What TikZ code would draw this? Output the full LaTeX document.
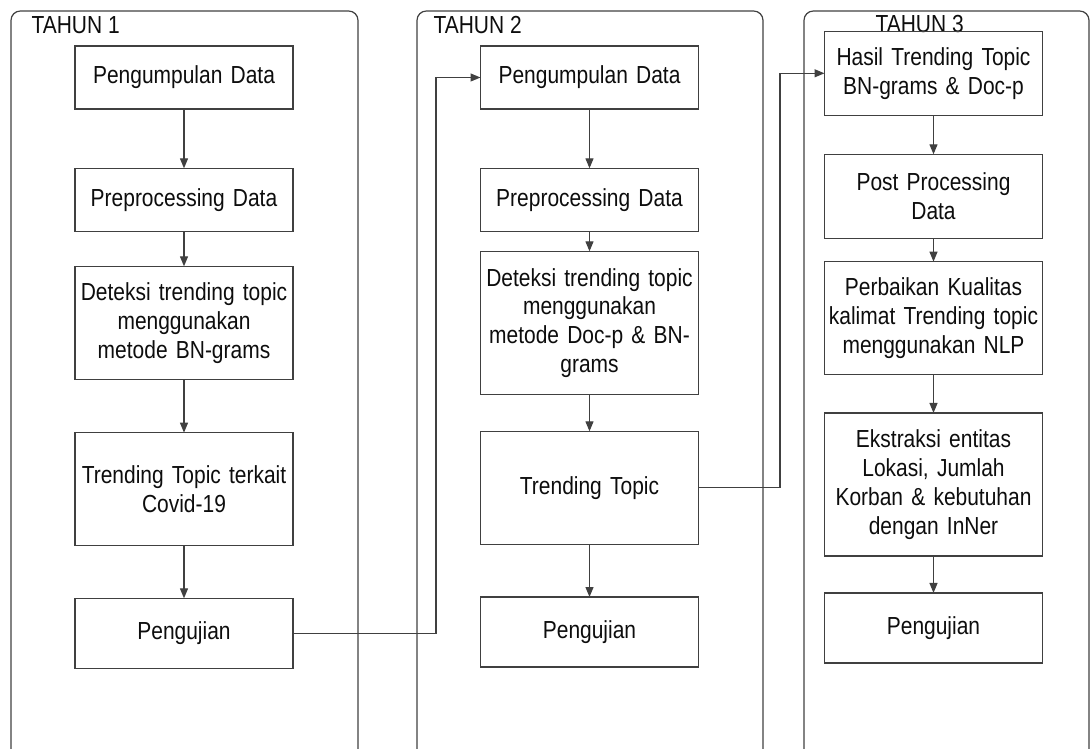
\documentclass[tikz,border=0pt]{standalone}
\usepackage{fontspec}
\setmainfont{Liberation Sans}[FakeStretch=0.85]
\usepackage{tikz}
\usetikzlibrary{arrows.meta}
\usetikzlibrary{positioning}

\begin{document}
\begin{tikzpicture}[->,>={Triangle[length=7.5pt,width=6pt]},x=0.75pt,y=-0.75pt,line width=0.9pt,color=black!75,text=black!95,font=\fontsize{18.5}{21.6}\selectfont]
	\tikzstyle{proses}=[draw,rectangle,text width=159.5pt,inner xsep=2pt,inner ysep=2pt,outer sep=0pt,align=center]
	\tikzstyle{tahun}=[-,rounded corners=7pt]
	\useasboundingbox (0,0) rectangle (1090,749);
	
	% kolom tahun
	\draw[tahun] (11,770) -- (11,11) -- (358,11) -- (358,770);
	\draw[tahun] (417,770) -- (417,11) -- (763,11) -- (763,770);
	\draw[tahun] (804,770) -- (804,11) -- (1089,11) -- (1089,770);
	\node[anchor=base west,inner sep=0pt] (t1) at (31,34) {TAHUN 1};
	\node[anchor=base west,inner sep=0pt] (t2) at (433,34) {TAHUN 2};
	\node[anchor=base west,inner sep=0pt] (t3) at (875,33) {TAHUN 3};
	
	% tahun 1
	\node[proses,minimum height=47.25pt]                   (11) at (184,77.5) {Pengumpulan Data};
	\node[proses,minimum height=47.25pt,below=44.5pt of 11]  (12) {Preprocessing Data};
	\node[proses,minimum height=84.75pt,below=26.25pt of 12] (13) {Deteksi trending topic\\menggunakan\\metode BN-grams};
	\node[proses,minimum height=84.75pt,below=40pt of 13]    (14) {Trending Topic terkait\\Covid-19};
	\node[proses,minimum height=52.5pt,below=39.5pt of 14]   (15) {Pengujian};
	
	% tahun 2
	\node[proses,minimum height=47.25pt]                    (21) at (589.5,77.5) {Pengumpulan Data};
	\node[proses,minimum height=47.25pt,below=44.5pt of 21]  (22) {Preprocessing Data};
	\node[proses,minimum height=107.25pt,below=15pt of 22]   (23) {Deteksi trending topic\\menggunakan\\metode Doc-p \& BN-\\grams};
	\node[proses,minimum height=84.75pt,below=27.75pt of 23] (24) {Trending Topic};
	\node[proses,minimum height=52.5pt,below=39.5pt of 24]   (25) {Pengujian};
	
	% tahun 3
	\node[proses,minimum height=63pt]                        (31) at (933.5,73.3) {Hasil Trending Topic\\BN-grams \& Doc-p};
	\node[proses,minimum height=63pt,below=29.25pt of 31]     (32) {Post Processing\\Data};
	\node[proses,minimum height=84.75pt,below=17.5pt of 32]   (33) {Perbaikan Kualitas\\kalimat Trending topic\\menggunakan NLP};
	\node[proses,minimum height=107.25pt,below=28.75pt of 33] (34) {Ekstraksi entitas\\Lokasi, Jumlah\\Korban \& kebutuhan\\dengan InNer};
	\node[proses,minimum height=52.5pt,below=27.75pt of 34]   (35) {Pengujian};
	
	\path (11) edge (12);
	\path (12) edge (13);
	\path (13) edge (14);
	\path (14) edge (15);
	\path (21) edge (22);
	\path (22) edge (23);
	\path (23) edge (24);
	\path (24) edge (25);
	\path (31) edge (32);
	\path (32) edge (33);
	\path (33) edge (34);
	\path (34) edge (35);
	
	% antar tahun
	\coordinate (k1) at (436,0);
	\coordinate (k2) at (780,0);
	\draw (15.east) -- (15.east -| k1) -- (k1 |- 21.west) -- (21.west);
	\draw (24.east) -- (24.east -| k2) -- (k2 |- 31.west) -- (31.west);
\end{tikzpicture}
\end{document}
